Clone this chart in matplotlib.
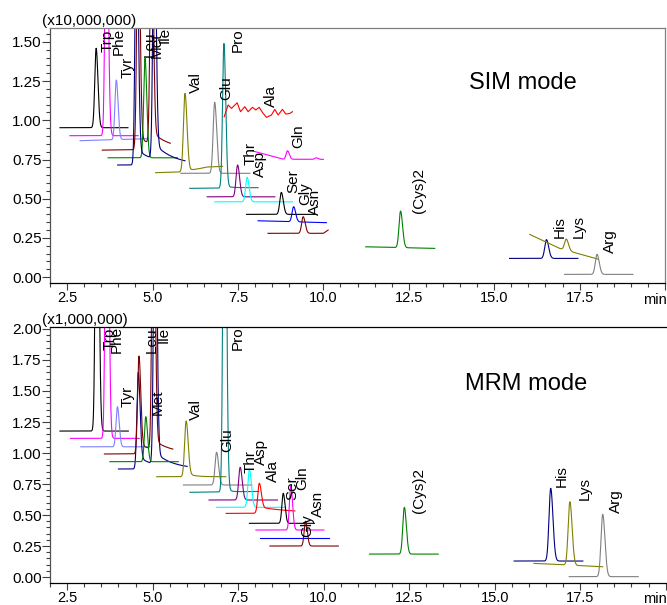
import numpy as np
import matplotlib
matplotlib.use('Agg')
from matplotlib import pyplot as plt
from matplotlib.ticker import MultipleLocator, FuncFormatter
from matplotlib.transforms import blended_transform_factory

plt.rcParams['font.family'] = ['Liberation Sans', 'DejaVu Sans']

# ---------------- SIM mode (x10,000,000) ----------------
sim_color = ['#000000', '#ff00ff', '#8080ff', '#800000', '#008000', '#000080',
             '#808000', '#808080', '#008080', '#ff00ff', '#800080', '#00ffff',
             '#000000', '#0000ff', '#800000', '#008000', '#000080', '#808000',
             '#808080']
# baseline knots (time, level) for each trace
sim_knot_t = [[2.29, 4.28], [2.58, 4.58], [2.88, 4.87], [3.53, 5.52], [3.70, 5.73],
              [3.98, 5.95], [5.09, 6.10, 6.60, 7.05], [5.83, 7.85], [6.09, 8.09],
              [7.94, 8.82, 10.0], [6.60, 8.58], [6.82, 9.10], [7.75, 9.75],
              [8.09, 10.09], [8.38, 10.0, 10.14], [11.24, 13.26], [15.45, 17.45],
              [16.04, 16.91, 18.03], [17.06, 19.06]]
sim_knot_y = [[0.953, 0.953], [0.902, 0.902], [0.870, 0.883], [0.810, 0.815],
              [0.761, 0.761], [0.715, 0.715], [0.666, 0.672, 0.700, 0.706],
              [0.662, 0.662], [0.566, 0.570], [0.804, 0.752, 0.751], [0.512, 0.512],
              [0.480, 0.480], [0.400, 0.400], [0.359, 0.347], [0.279, 0.279, 0.300],
              [0.193, 0.183], [0.119, 0.119], [0.272, 0.183, 0.115], [0.017, 0.017]]
sim_rt = [[3.35], [3.65], [3.94], [4.58, 4.97], [4.78], [4.53, 5.05], [5.95], [6.82],
          [7.09], [8.95, 9.79], [7.49], [7.77], [8.77], [9.13], [9.41], [12.26],
          [16.53], [17.11], [18.01]]
sim_apex = [[1.46], [2.6], [1.257], [2.4, 2.4], [1.396], [2.4, 2.4], [1.172], [1.115],
            [1.49], [0.806, 0.761], [0.715], [0.636], [0.54], [0.449], [0.385],
            [0.421], [0.239], [0.2425], [0.145]]
sim_sigma = [0.04, 0.04, 0.04, 0.04, 0.04, 0.04, 0.045, 0.045, 0.04, 0.04, 0.045,
             0.045, 0.045, 0.045, 0.045, 0.045, 0.05, 0.05, 0.05]
sim_tail = [0, 0, 0, 0.08, 0, 0.10, 0.02, 0, 0.01, 0, 0, 0, 0, 0, 0, 0, 0, 0, 0]
sim_tau = [0.5, 0.5, 0.5, 0.5, 0.5, 0.55, 0.3, 0.5, 0.3, 0.5, 0.5, 0.5, 0.5, 0.5,
           0.5, 0.5, 0.5, 0.5, 0.5]

# Ala trace is pure noise, read point by point
ala_t = [7.097, 7.214, 7.312, 7.477, 7.575, 7.702, 7.799, 7.926, 8.023, 8.121,
         8.238, 8.335, 8.481, 8.579, 8.676, 8.803, 8.901, 9.018, 9.096]
ala_y = [1.023, 1.098, 1.076, 1.112, 1.055, 1.087, 1.055, 1.083, 1.066, 1.083,
         1.044, 1.019, 1.034, 1.070, 1.034, 1.070, 1.040, 1.044, 1.055]

sim_names = ['Trp', 'Phe', 'Tyr', 'Leu', 'Met', 'Ile', 'Val', 'Pro', 'Glu', 'Ala',
             'Gln', 'Thr', 'Asp', 'Ser', 'Gly', 'Asn', '(Cys)2', 'His', 'Lys', 'Arg']
sim_label_x = [3.68, 4.00, 4.27, 4.92, 5.13, 5.36, 6.27, 7.48, 7.16, 8.46,
               9.28, 7.88, 8.14, 9.11, 9.46, 9.75, 12.80, 16.91, 17.48, 18.39]
sim_label_y = [1.436, 1.417, 1.27, 1.404, 1.40, 1.493, 1.174, 1.436, 1.13, 1.085,
               0.823, 0.715, 0.638, 0.536, 0.459, 0.396, 0.408, 0.249, 0.249, 0.153]

# ---------------- MRM mode (x1,000,000) ----------------
mrm_color = ['#000000', '#ff00ff', '#8080ff', '#000080', '#800000', '#008000',
             '#808000', '#808080', '#008080', '#800080', '#00ffff', '#ff0000',
             '#000000', '#ff00ff', '#0000ff', '#800000', '#008000', '#000080',
             '#808000', '#808080']
mrm_knot_t = [[2.29, 4.29], [2.60, 4.61], [2.90, 4.92], [4.00, 6.01], [3.59, 5.59],
              [3.75, 5.75], [5.12, 7.14], [5.90, 7.90], [6.09, 8.10], [6.65, 8.65],
              [6.87, 8.87], [7.15, 9.16], [7.83, 9.73], [8.02, 10.01], [8.14, 10.17],
              [8.43, 10.43], [11.34, 13.35], [15.57, 17.58], [16.15, 18.16],
              [17.18, 19.20]]
mrm_knot_y = [[1.177, 1.177], [1.118, 1.118], [1.050, 1.050], [0.871, 0.871],
              [0.992, 0.995], [0.930, 0.930], [0.809, 0.809], [0.742, 0.742],
              [0.683, 0.690], [0.621, 0.621], [0.562, 0.562], [0.513, 0.515],
              [0.433, 0.433], [0.379, 0.379], [0.317, 0.317], [0.250, 0.250],
              [0.185, 0.185], [0.129, 0.129], [0.110, 0.083], [0.003, 0.003]]
mrm_rt = [[3.37], [3.66], [3.97], [4.58, 5.07], [4.60, 5.02], [4.80], [5.98], [6.87],
          [7.10], [7.56], [7.83], [8.12], [8.82], [9.04], [], [9.47], [12.36],
          [16.64], [17.20], [18.16]]
mrm_apex = [[4.5], [4.5], [1.373], [1.65, 3.5], [1.782, 3.5], [1.293], [1.258],
            [1.006], [4.5], [0.885], [0.869], [0.756], [0.675], [0.734], [], [0.45],
            [0.562], [0.715], [0.607], [0.506]]
mrm_sigma = [0.04, 0.04, 0.04, 0.04, 0.04, 0.04, 0.045, 0.045, 0.04, 0.045, 0.045,
             0.045, 0.04, 0.04, 0.04, 0.04, 0.045, 0.05, 0.05, 0.05]
mrm_tail = [0, 0, 0, 0.10, 0.08, 0, 0.03, 0, 0.05, 0, 0, 0.05, 0, 0, 0, 0, 0, 0, 0, 0]
mrm_tau = [0.5, 0.5, 0.5, 0.5, 0.5, 0.5, 0.2, 0.5, 0.1, 0.5, 0.5, 1.0, 0.5, 0.5,
           0.5, 0.5, 0.5, 0.5, 0.5, 0.5]

mrm_names = ['Trp', 'Phe', 'Leu', 'Ile', 'Tyr', 'Met', 'Val', 'Pro', 'Glu', 'Thr',
             'Asp', 'Ala', 'Ser', 'Gln', 'Gly', 'Asn', '(Cys)2', 'His', 'Lys', 'Arg']
mrm_label_x = [3.73, 3.96, 4.98, 5.33, 4.28, 5.14, 6.27, 7.48, 7.19, 7.88,
               8.18, 8.51, 9.09, 9.38, 9.53, 9.82, 12.80, 16.96, 17.64, 18.56]
mrm_label_y = [1.83, 1.806, 1.806, 1.887, 1.371, 1.306, 1.266, 1.83, 1.008, 0.839,
               0.903, 0.766, 0.621, 0.702, 0.323, 0.484, 0.516, 0.726, 0.621, 0.516]


def trace(knot_t, knot_y, rts, apexes, sigma, tail, tau):
    t = np.linspace(knot_t[0], knot_t[-1], 800)
    y = np.interp(t, knot_t, knot_y)
    for rt, top in zip(rts, apexes):
        h = top - np.interp(rt, knot_t, knot_y)
        s = np.where(t < rt, sigma, sigma * 1.3)
        g = np.exp(-0.5 * ((t - rt) / s) ** 2)
        y = y + h * g
        after = t > rt
        y[after] += tail * np.exp(-(t[after] - rt) / tau) * (1 - g[after])
    return t, y


def style_axes(ax, xmax, ymin, ymax, top_color, show_right):
    ax.set_xlim(2.0, xmax)
    ax.set_ylim(ymin, ymax)
    ax.xaxis.set_major_locator(MultipleLocator(2.5))
    ax.xaxis.set_minor_locator(MultipleLocator(0.5))
    ax.xaxis.set_major_formatter(FuncFormatter(lambda v, p: '' if v > 19 else '%.1f' % v))
    ax.yaxis.set_major_locator(MultipleLocator(0.25))
    ax.yaxis.set_minor_locator(MultipleLocator(0.05))
    ax.yaxis.set_major_formatter(FuncFormatter(lambda v, p: '%.2f' % v))
    ax.tick_params(axis='x', which='major', length=5, width=0.8, pad=1,
                   labelsize=10.5, color='#404040')
    ax.tick_params(axis='x', which='minor', length=3, width=0.8, color='#404040')
    ax.tick_params(axis='y', which='major', length=5.5, width=0.8, pad=0.5,
                   labelsize=11, color='#404040')
    ax.tick_params(axis='y', which='minor', length=3, width=0.8, color='#404040')
    ax.spines['left'].set_color('#505050')
    ax.spines['bottom'].set_color('#000000')
    ax.spines['top'].set_color(top_color)
    ax.spines['right'].set_color('#808080')
    ax.spines['right'].set_visible(show_right)
    for sp in ax.spines.values():
        sp.set_linewidth(0.9)


fig = plt.figure(figsize=(6.67, 6.05), dpi=100)
ax1 = fig.add_axes([0.075, 0.5322, 0.922, 0.4215])
ax2 = fig.add_axes([0.075, 0.0364, 0.925, 0.4231])

style_axes(ax1, 20.0, -0.038, 1.589, '#808080', True)
style_axes(ax2, 20.04, -0.048, 2.016, '#000000', False)

for i in range(len(sim_color)):
    t, y = trace(sim_knot_t[i], sim_knot_y[i], sim_rt[i], sim_apex[i],
                 sim_sigma[i], sim_tail[i], sim_tau[i])
    ax1.plot(t, y, color=sim_color[i], lw=0.8)
ax1.plot(ala_t, ala_y, color='#ff0000', lw=0.8)

for i in range(len(mrm_color)):
    t, y = trace(mrm_knot_t[i], mrm_knot_y[i], mrm_rt[i], mrm_apex[i],
                 mrm_sigma[i], mrm_tail[i], mrm_tau[i])
    ax2.plot(t, y, color=mrm_color[i], lw=0.8)

for ax, names, lx, ly in [(ax1, sim_names, sim_label_x, sim_label_y),
                          (ax2, mrm_names, mrm_label_x, mrm_label_y)]:
    for name, x, y in zip(names, lx, ly):
        ax.text(x, y, name, rotation=90, ha='center', va='bottom',
                fontsize=11, clip_on=True)

ax1.text(15.83, 1.235, 'SIM mode', fontsize=17, ha='center', va='center')
ax2.text(15.93, 1.556, 'MRM mode', fontsize=17, ha='center', va='center')

ax1.text(-0.013, 1.0, '(x10,000,000)', transform=ax1.transAxes, fontsize=11,
         ha='left', va='bottom')
ax2.text(-0.013, 1.0, '(x1,000,000)', transform=ax2.transAxes, fontsize=11,
         ha='left', va='bottom')

for ax, yy in [(ax1, -0.066), (ax2, -0.064)]:
    tr = blended_transform_factory(ax.transData, ax.transAxes)
    ax.text(19.35, yy, 'min', transform=tr, fontsize=10.5, ha='left', va='center',
            clip_on=False)

fig.savefig('out.png', dpi=100)
